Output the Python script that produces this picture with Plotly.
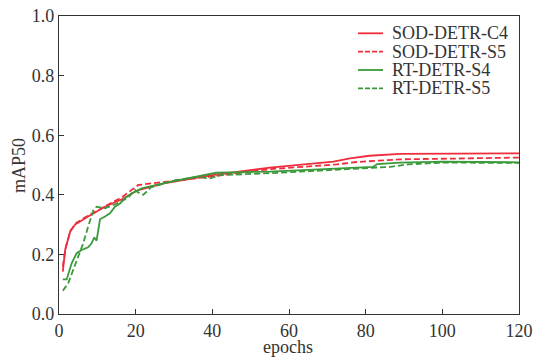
import plotly.graph_objects as go

# SOD-DETR-C4 (red solid)
c4_epochs = [1, 1.6, 2.9, 4.2, 7.6, 12, 16.4, 20.7, 27.7, 40, 55, 57.6, 71.6, 75.9, 81, 89, 100, 120]
c4_map = [0.142, 0.215, 0.276, 0.300, 0.327, 0.360, 0.385, 0.416, 0.439, 0.466, 0.491, 0.494, 0.511, 0.522, 0.531, 0.537, 0.538, 0.539]

# SOD-DETR-S5 (red dashed)
s5_epochs = [1, 1.8, 3, 4.4, 7.6, 12, 16.4, 20.7, 25, 40, 55, 72.4, 77.7, 89, 100, 120]
s5_map = [0.160, 0.225, 0.280, 0.305, 0.330, 0.362, 0.392, 0.433, 0.440, 0.462, 0.486, 0.502, 0.510, 0.519, 0.521, 0.525]

# RT-DETR-S4 (green solid)
rs4_epochs = [1, 2, 3.3, 4.6, 5.9, 7.6, 8.5, 9.2, 9.8, 10.7, 12, 13.3, 14.6, 15.9, 17.2, 19, 21.6, 27.7, 41, 55, 82, 83, 89, 100, 120]
rs4_map = [0.116, 0.116, 0.170, 0.204, 0.215, 0.224, 0.237, 0.257, 0.246, 0.318, 0.327, 0.338, 0.360, 0.371, 0.388, 0.405, 0.422, 0.440, 0.474, 0.478, 0.494, 0.503, 0.508, 0.511, 0.509]

# RT-DETR-S5 (green dashed)
rs5_epochs = [1, 2.4, 3.7, 5, 6.3, 7.6, 9, 9.8, 12, 15, 18, 19.8, 21, 22, 24, 30, 36, 39.4, 42, 57.6, 82, 86.5, 91, 100, 120]
rs5_map = [0.078, 0.103, 0.148, 0.192, 0.237, 0.293, 0.349, 0.360, 0.355, 0.370, 0.390, 0.416, 0.405, 0.400, 0.425, 0.448, 0.460, 0.455, 0.466, 0.474, 0.491, 0.494, 0.502, 0.508, 0.507]

names = ["SOD-DETR-C4", "SOD-DETR-S5", "RT-DETR-S4", "RT-DETR-S5"]
RED = "#ee2d3c"
GREEN = "#3a9a3a"
colors = [RED, RED, GREEN, GREEN]
dashes = ["solid", "dash", "solid", "dash"]
series = [(c4_epochs, c4_map), (s5_epochs, s5_map), (rs4_epochs, rs4_map), (rs5_epochs, rs5_map)]

FONT = "Liberation Serif, Times New Roman, serif"
TXT = "#333333"
fig = go.Figure()
for (x, y), n, c, d in zip(series, names, colors, dashes):
    fig.add_trace(go.Scatter(x=x, y=y, mode="lines", name=n,
                             line=dict(color=c, width=1.8, dash="solid" if d == "solid" else "6px,3px"),
                             showlegend=False))

W, H = 534, 358
ml, mr, mt, mb = 59, 15, 16, 44
pw, ph = W - ml - mr, H - mt - mb
def px2paper(px, py):
    return (px - ml) / pw, 1 - (py - mt) / ph

# Manual legend (compact spacing like the reference)
rows = [33.3, 51.7, 70.0, 88.3]
for i, (n, c, d) in enumerate(zip(names, colors, dashes)):
    x0, y0 = px2paper(358, rows[i])
    x1, _ = px2paper(383, rows[i])
    fig.add_shape(type="line", xref="paper", yref="paper", x0=x0, x1=x1, y0=y0, y1=y0,
                  line=dict(color=c, width=1.8, dash="solid" if d == "solid" else "5px,2px"))
    tx, ty = px2paper(390, rows[i])
    fig.add_annotation(xref="paper", yref="paper", x=tx, y=ty, text=n, showarrow=False,
                       xanchor="left", yanchor="middle", font=dict(family=FONT, size=18, color=TXT))

# Axis titles
ex, ey = px2paper(288, 347)
fig.add_annotation(xref="paper", yref="paper", x=ex, y=ey, text="epochs", showarrow=False,
                   xanchor="center", yanchor="middle", font=dict(family=FONT, size=18, color=TXT))
yx, yy = px2paper(19, 166)
fig.add_annotation(xref="paper", yref="paper", x=yx, y=yy, text="mAP50", showarrow=False, textangle=-90,
                   xanchor="center", yanchor="middle", font=dict(family=FONT, size=18, color=TXT))

axis_common = dict(showline=True, linecolor=TXT, linewidth=1.2, mirror=True,
                   ticks="inside", ticklen=5, tickcolor=TXT, tickwidth=1.2,
                   showgrid=False, zeroline=False, automargin=False,
                   tickfont=dict(family=FONT, size=18, color=TXT))

fig.update_layout(
    width=W, height=H,
    margin=dict(l=ml, r=mr, t=mt, b=mb, autoexpand=False),
    plot_bgcolor="white", paper_bgcolor="white",
    font=dict(family=FONT, size=18, color=TXT),
    xaxis=dict(range=[0, 120], tickvals=[0, 20, 40, 60, 80, 100, 120], **axis_common),
    yaxis=dict(range=[0, 1.0], tickvals=[0, 0.2, 0.4, 0.6, 0.8, 1.0], tickformat=".1f", **axis_common),
)
fig.write_html("out.html", config={"displayModeBar": False},
               post_script="document.body.style.margin='0';document.body.style.overflow='hidden';")
